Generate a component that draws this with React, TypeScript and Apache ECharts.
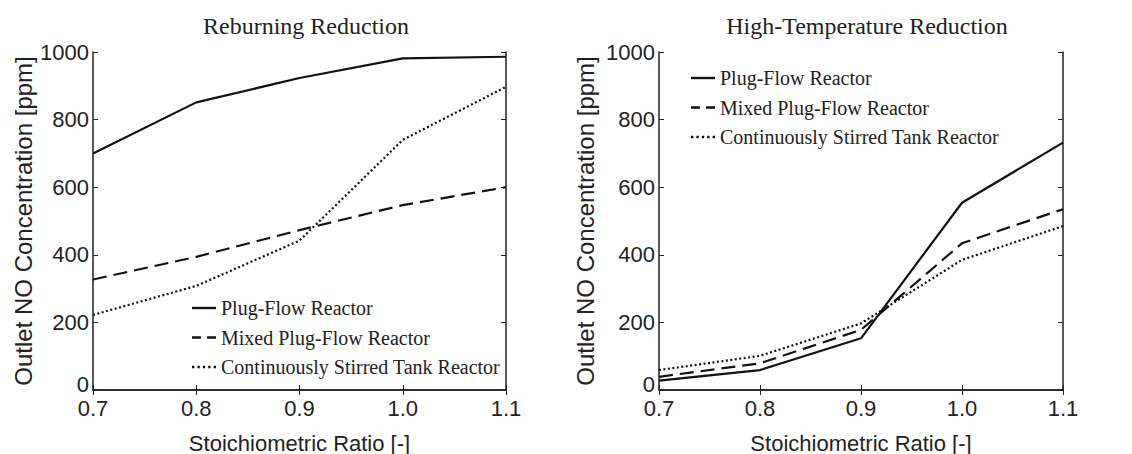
import React, { useEffect, useRef } from "react";
import * as echarts from "echarts";

const ratios = ["0.7", "0.8", "0.9", "1.0", "1.1"];
const seriesNames = ["Plug-Flow Reactor", "Mixed Plug-Flow Reactor", "Continuously Stirred Tank Reactor"];

const reburnPlug = [700, 851, 923, 981, 986];
const reburnMixed = [327, 394, 473, 547, 600];
const reburnCstr = [222, 308, 442, 740, 897];

const highPlug = [28, 59, 153, 554, 732];
const highMixed = [39, 79, 178, 434, 535];
const highCstr = [59, 101, 197, 385, 485];

const titles = ["Reburning Reduction", "High-Temperature Reduction"];
const xName = "Stoichiometric Ratio [-]";
const yName = "Outlet NO Concentration [ppm]";

const SANS = "Liberation Sans";
const SERIF = "Liberation Serif";

const legendIcons = [
  "path://M0,0h24v2.4h-24z",
  "path://M0,0h9v2.4h-9zM15,0h9v2.4h-9z",
  "path://M0,0h2.4v2.4h-2.4zM5.4,0h2.4v2.4h-2.4zM10.8,0h2.4v2.4h-2.4zM16.2,0h2.4v2.4h-2.4zM21.6,0h2.4v2.4h-2.4z",
];

export default function App() {
  const ref = useRef<HTMLDivElement>(null);
  useEffect(() => {
    if (!ref.current) return;
    const chart = echarts.init(ref.current, null, { renderer: "svg" });
    const grids = [
      { left: 93, top: 52, width: 413, height: 338, outerBoundsMode: "none", containLabel: false },
      { left: 659, top: 52, width: 404, height: 338, outerBoundsMode: "none", containLabel: false },
    ];
    const lineStyles = [
      { type: "solid" as any, width: 2.2 },
      { type: [14, 7] as any, width: 2.2 },
      { type: [2, 2.5] as any, width: 2.2 },
    ];
    const yNameGaps = [58, 62];
    const xAxes: any[] = [];
    const yAxes: any[] = [];
    grids.forEach((_, gi) => {
      xAxes.push({
        type: "category",
        gridIndex: gi,
        data: ratios,
        boundaryGap: false,
        axisLine: { show: true, lineStyle: { color: "#222", width: 1.5 } },
        axisTick: { show: true, inside: true, length: 5, lineStyle: { color: "#222" } },
        axisLabel: { color: "#222", fontFamily: SANS, fontSize: 22, margin: 10, lineHeight: 16 },
        splitLine: { show: false },
        name: xName,
        nameLocation: "middle",
        nameGap: 42,
        nameTextStyle: { color: "#222", fontFamily: SANS, fontSize: 22 },
      });
      xAxes.push({
        type: "category",
        gridIndex: gi,
        position: "top",
        data: ratios,
        boundaryGap: false,
        axisLine: { show: true, lineStyle: { color: "#222", width: 1.5 } },
        axisTick: { show: true, inside: true, length: 5, lineStyle: { color: "#222" } },
        axisLabel: { show: false },
        splitLine: { show: false },
      });
      yAxes.push({
        type: "value",
        gridIndex: gi,
        min: 0,
        max: 1000,
        interval: 200,
        axisLine: { show: true, lineStyle: { color: "#222", width: 1.5 } },
        axisTick: { show: true, inside: true, length: 5, lineStyle: { color: "#222" } },
        axisLabel: {
          color: "#222",
          fontFamily: SANS,
          fontSize: 22,
          margin: 4,
          lineHeight: 16,
          formatter: (v: number) => (v === 0 ? "{z|0}" : String(v)),
          rich: {
            z: { fontFamily: SANS, fontSize: 22, lineHeight: 16, color: "#222", padding: [0, 0, 12, 0] },
          },
        },
        splitLine: { show: false },
        name: yName,
        nameLocation: "middle",
        nameGap: yNameGaps[gi],
        nameTextStyle: { color: "#222", fontFamily: SANS, fontSize: 24 },
      });
      yAxes.push({
        type: "value",
        gridIndex: gi,
        position: "right",
        min: 0,
        max: 1000,
        interval: 200,
        axisLine: { show: true, lineStyle: { color: "#222", width: 1.5 } },
        axisTick: { show: true, inside: true, length: 5, lineStyle: { color: "#222" } },
        axisLabel: { show: false },
        splitLine: { show: false },
      });
    });
    const data = [
      [reburnPlug, reburnMixed, reburnCstr],
      [highPlug, highMixed, highCstr],
    ];
    const series: any[] = [];
    data.forEach((set, gi) => {
      set.forEach((vals, si) => {
        series.push({
          type: "line",
          name: seriesNames[si],
          xAxisIndex: gi * 2,
          yAxisIndex: gi * 2,
          data: vals,
          symbol: "none",
          color: "#111",
          lineStyle: { color: "#111", ...lineStyles[si] },
        });
      });
    });
    const legendBase = {
      orient: "vertical",
      selectedMode: false,
      itemWidth: 24,
      itemHeight: 2.4,
      itemGap: 9.5,
      data: seriesNames.map((name, i) => ({ name, icon: legendIcons[i] })),
      itemStyle: { color: "#111", borderWidth: 0 },
      lineStyle: { width: 0 },
      textStyle: { color: "#222", fontFamily: SERIF, fontSize: 20, lineHeight: 20 },
    };
    chart.setOption({
      animation: false,
      backgroundColor: "#fff",
      title: [
        {
          text: titles[0],
          left: 301,
          textAlign: "center",
          top: 9,
          textStyle: { fontFamily: SERIF, fontSize: 24, fontWeight: "normal", color: "#222" },
        },
        {
          text: titles[1],
          left: 862,
          textAlign: "center",
          top: 9,
          textStyle: { fontFamily: SERIF, fontSize: 24, fontWeight: "normal", color: "#222" },
        },
      ],
      legend: [
        { ...legendBase, left: 187, top: 293 },
        { ...legendBase, left: 686, top: 63 },
      ],
      grid: grids,
      xAxis: xAxes,
      yAxis: yAxes,
      series,
    });
    return () => chart.dispose();
  }, []);
  return (
    <div
      ref={ref}
      style={{ position: "fixed", left: 0, top: 0, width: 1132, height: 454 }}
    />
  );
}
